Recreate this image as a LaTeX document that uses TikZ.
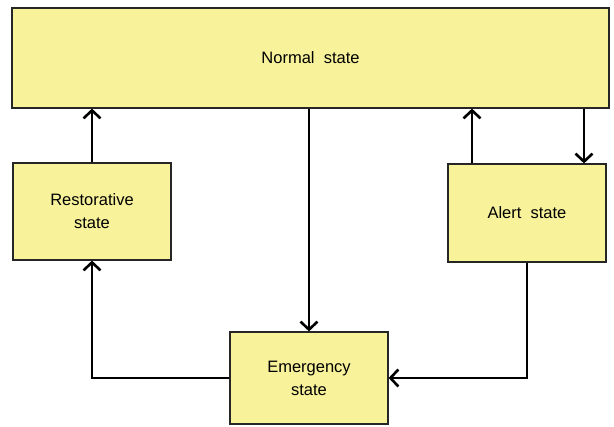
\documentclass[tikz,border=0pt]{standalone}
\usepackage{fontspec}
\setmainfont{Liberation Sans}
\usetikzlibrary{arrows.meta}

\definecolor{statefill}{RGB}{248,242,155}
\tikzset{
  statebox/.style={draw=black!85, line width=1.2pt, fill=statefill, align=center,
    font=\fontsize{16.5}{23}\selectfont, inner sep=0pt},
  flow/.style={line width=2.6pt, -{Straight Barb[length=8pt,width=17pt,line width=2.6pt]}}
}

\begin{document}
\begin{tikzpicture}[x=1pt,y=-1pt]
                    \useasboundingbox (0,0) rectangle (614,427);
                    \node[statebox, minimum width=597pt, minimum height=100pt] (normal) at (310.5,58) {Normal\ \ state};
                    \node[statebox, minimum width=158pt, minimum height=97pt] (restor) at (92,211.5) {Restorative\\state};
                    \node[statebox, minimum width=158pt, minimum height=98pt] (alert) at (527,213) {Alert\ \ state};
                    \node[statebox, minimum width=158pt, minimum height=92pt] (emerg) at (309,378) {Emergency\\state};
                    \draw[flow] (restor.north) -- (restor.north |- normal.south);
                    \draw[flow] (emerg.north |- normal.south) -- (emerg.north);
                    \draw[flow] ([xshift=-55pt]alert.north) -- ([xshift=-55pt]alert.north |- normal.south);
                    \draw[flow] ([xshift=57pt]alert.north |- normal.south) -- ([xshift=57pt]alert.north);
                    \draw[flow] (alert.south) -- (alert.south |- emerg.east) -- (emerg.east);
                    \draw[flow] (emerg.west) -- (restor.south |- emerg.west) -- (restor.south);
                \end{tikzpicture}
\end{document}
